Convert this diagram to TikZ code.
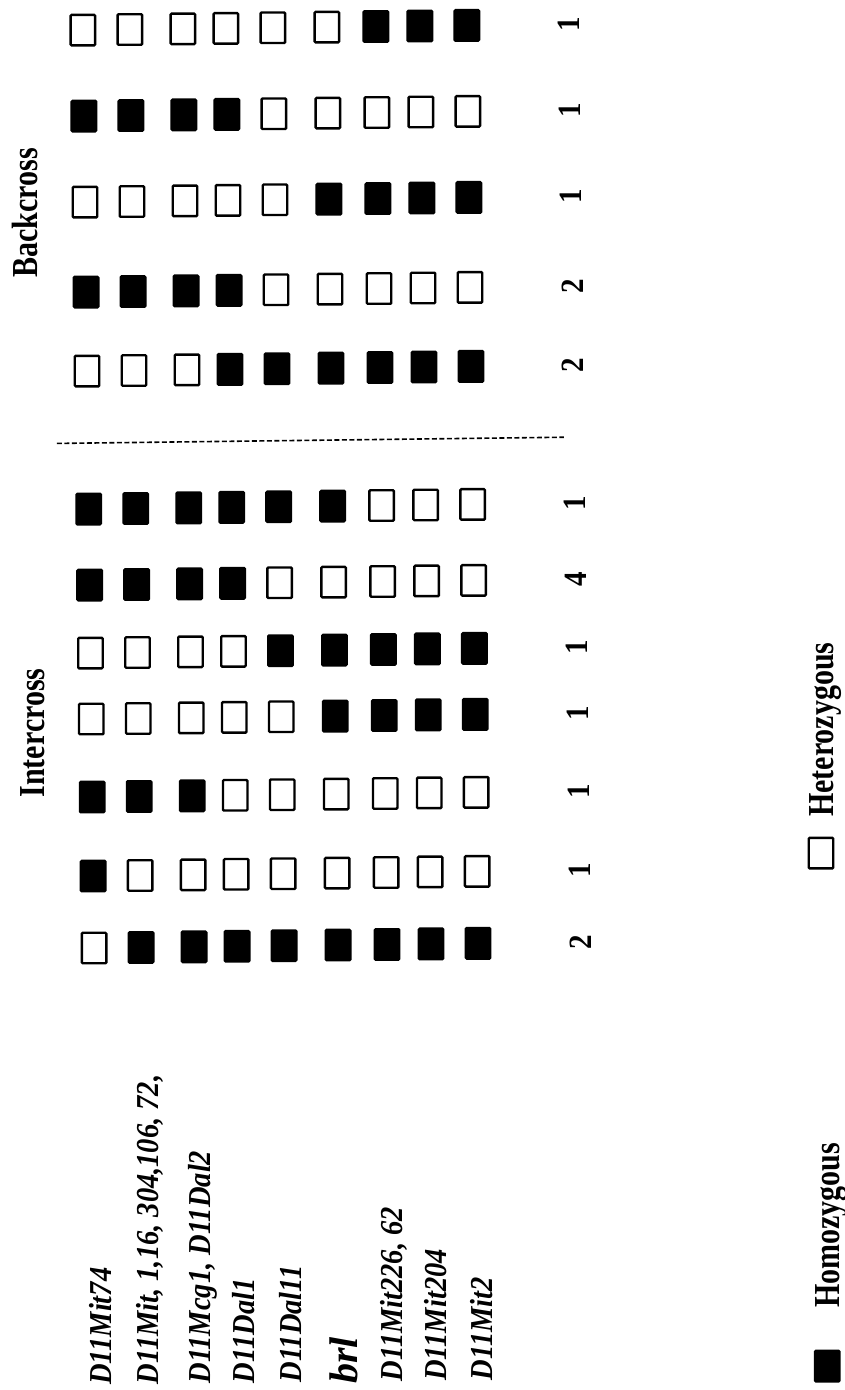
\documentclass[tikz,border=0pt]{standalone}
\usepackage{fontspec}
\setmainfont{Liberation Serif}
\newcommand{\tall}[1]{\scalebox{1}[1.12]{#1}}
\newcommand{\taller}[1]{\scalebox{1}[1.22]{#1}}
\begin{document}
\begin{tikzpicture}[x=1pt,y=-1pt,
  het/.style={draw, line width=2.4pt, minimum width=24.5pt, minimum height=30.5pt, inner sep=0pt, rounded corners=1pt},
  hom/.style={het, fill=black},
  lab/.style={rotate=90, anchor=west, inner sep=0pt, text height=22pt, text depth=0pt, font=\bfseries\itshape\fontsize{28.5}{29}\selectfont},
  head/.style={rotate=90, anchor=base west, inner sep=0pt, font=\bfseries\fontsize{30}{30}\selectfont},
  num/.style={rotate=90, inner sep=0pt, text height=22pt, text depth=0pt, font=\bfseries\fontsize{29}{29}\selectfont},
  sep/.style={line width=1.6pt, dash pattern=on 5pt off 2.5pt}]
\fill[white] (0,0) rectangle (845,1390);
\useasboundingbox (0,0) rectangle (845,1390);
\begin{scope}[rotate around={0.7:(422,695)}]
% headers
\node[head] (bc) at (43,273) {\taller{Backcross}};
\node[head] (ic) at (43,793) {\taller{Intercross}};
% genotype grid: y / start value / switch index / count
\foreach \yy/\s/\k/\n [count=\c] in {26/0/6/1, 112/1/4/1, 198/0/5/1, 288/1/4/2, 367/0/3/2,
    505/1/6/1, 581/1/4/4, 649/0/4/1, 715/0/5/1, 793/1/3/1, 872/1/1/1, 944/0/1/2}{
  \foreach \xx [count=\m] in {91,138,191,234,281,335,384,428,475}{
    \pgfmathtruncatemacro\v{(\m<=\k) ? \s : 1-\s}
    \ifnum\v=1
      \node[hom] (g\c-\m) at (\xx,\yy) {};
    \else
      \node[het] (g\c-\m) at (\xx,\yy) {};
    \fi
  }
  \node[num] (n\c) at (577,\yy) {\tall{\n}};
}
% separator
\coordinate (dl) at (60,439);
\coordinate (dr) at (567,439);
\draw[sep] (dl) -- (dr);
% marker labels
\node[lab] (m1) at (92,1381) {\tall{D11Mit74}};
\node[lab] (m2) at (139,1381) {\tall{D11Mit, 1,16, 304,106, 72,}};
\node[lab] (m3) at (191,1381) {\tall{D11Mcg1, D11Dal2}};
\node[lab] (m4) at (235,1381) {\tall{D11Dal1}};
\node[lab] (m5) at (282,1381) {\tall{D11Dal11}};
\node[rotate=90, anchor=base west, inner sep=0pt, font=\bfseries\itshape\fontsize{40}{40}\selectfont] (m6) at (349,1383) {brl};
\node[lab] (m7) at (383,1381) {\tall{D11Mit226, 62}};
\node[lab] (m8) at (427,1381) {\tall{D11Mit204}};
\node[lab] (m9) at (473,1381) {\tall{D11Mit2}};
% legend
\node[het] (lhet) at (819,858) {};
\node[head] (thet) at (832,822) {\taller{Heterozygous}};
\node[hom] (lhom) at (819,1371) {};
\node[head] (thom) at (832,1313) {\taller{Homozygous}};
\end{scope}
\end{tikzpicture}
\end{document}
